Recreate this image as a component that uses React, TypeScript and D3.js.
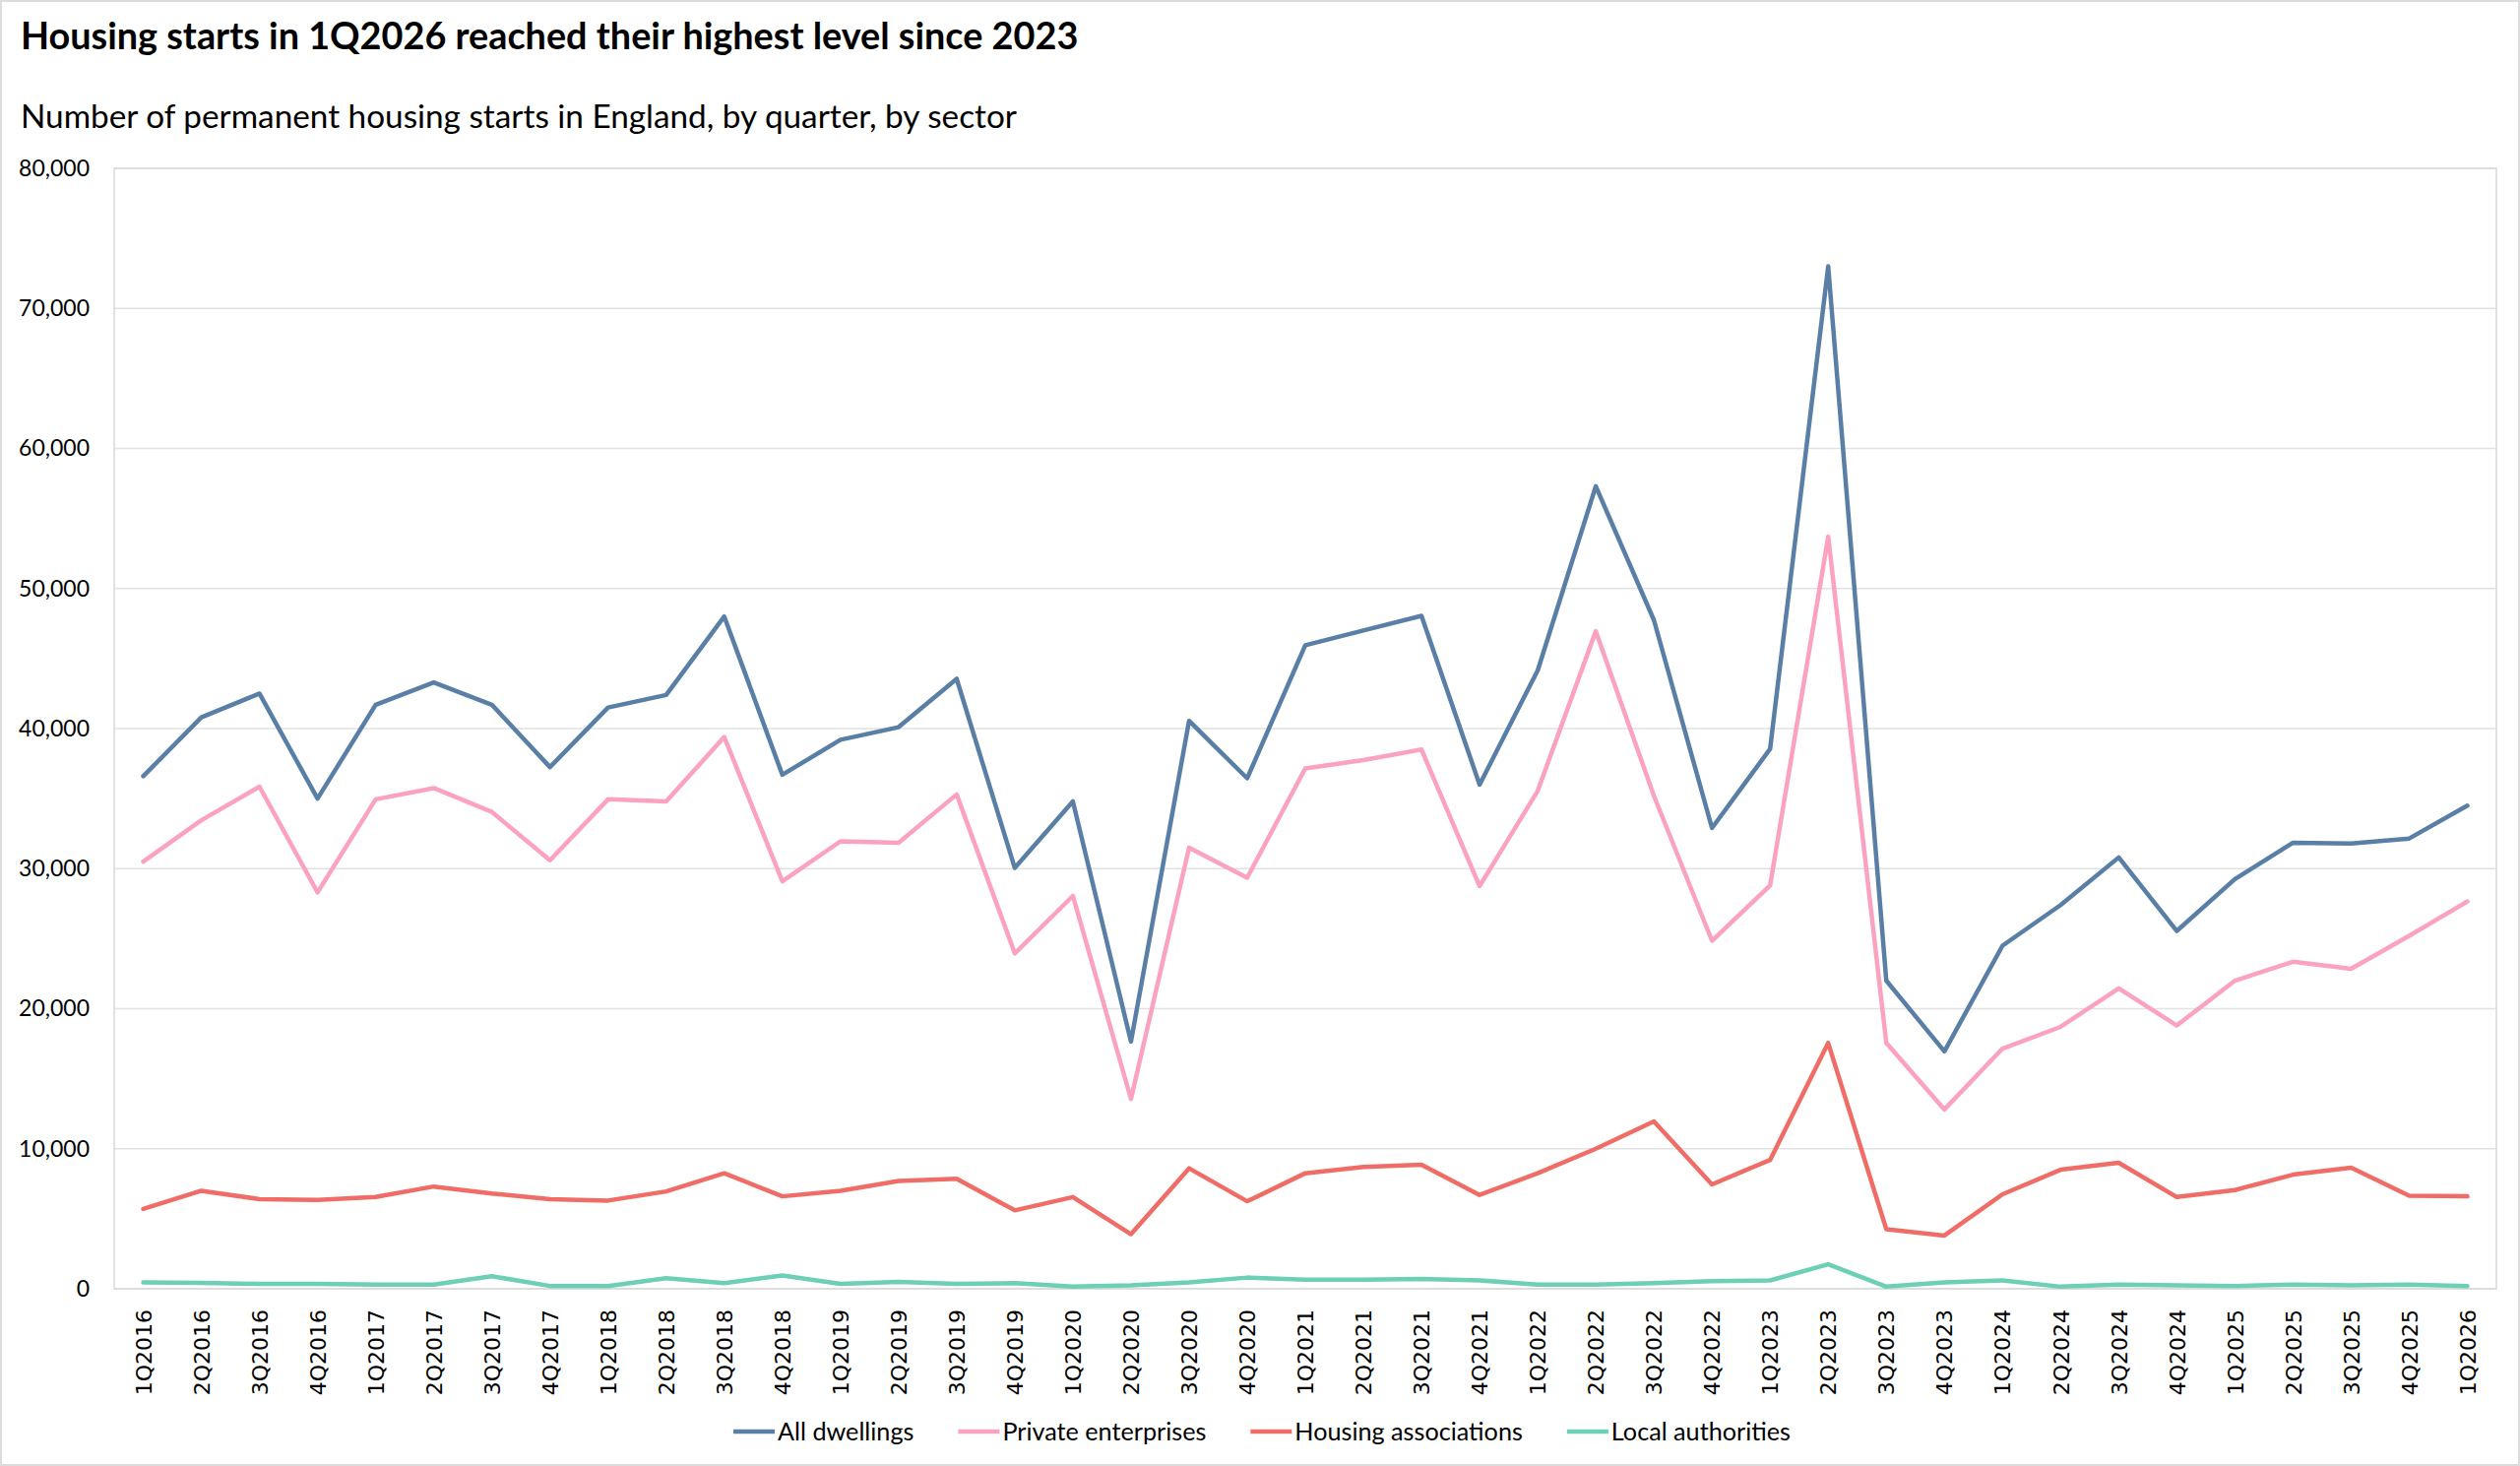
import * as d3 from "d3";
import { useEffect, useRef } from "react";

const quarters = [
  "1Q2016", "2Q2016", "3Q2016", "4Q2016",
  "1Q2017", "2Q2017", "3Q2017", "4Q2017",
  "1Q2018", "2Q2018", "3Q2018", "4Q2018",
  "1Q2019", "2Q2019", "3Q2019", "4Q2019",
  "1Q2020", "2Q2020", "3Q2020", "4Q2020",
  "1Q2021", "2Q2021", "3Q2021", "4Q2021",
  "1Q2022", "2Q2022", "3Q2022", "4Q2022",
  "1Q2023", "2Q2023", "3Q2023", "4Q2023",
  "1Q2024", "2Q2024", "3Q2024", "4Q2024",
  "1Q2025", "2Q2025", "3Q2025", "4Q2025",
  "1Q2026",
];

const allDwellings = [
  36600, 40800, 42500, 35000, 41700, 43300, 41700, 37250,
  41500, 42400, 48000, 36700, 39200, 40100, 43550, 30050,
  34800, 17650, 40550, 36450, 45950, 47000, 48050, 36000,
  44150, 57300, 47750, 32900, 38550, 73000, 22000, 16950,
  24500, 27400, 30800, 25550, 29250, 31850, 31800, 32150,
  34500,
];

const privateEnterprises = [
  30500, 33450, 35850, 28300, 34950, 35750, 34050, 30600,
  34950, 34800, 39400, 29100, 31950, 31850, 35300, 23950,
  28050, 13550, 31500, 29350, 37150, 37750, 38500, 28750,
  35550, 46950, 35200, 24850, 28800, 53700, 17550, 12800,
  17150, 18700, 21450, 18800, 22000, 23350, 22850, 25200,
  27650,
];

const housingAssociations = [
  5700, 7000, 6400, 6350, 6550, 7300, 6800, 6400,
  6300, 6950, 8250, 6600, 7000, 7700, 7850, 5600,
  6550, 3900, 8600, 6250, 8250, 8700, 8850, 6700,
  8250, 10000, 11950, 7450, 9200, 17550, 4250, 3800,
  6750, 8500, 9000, 6550, 7050, 8150, 8650, 6650,
  6600,
];

const localAuthorities = [
  450, 420, 350, 350, 300, 300, 900, 200,
  200, 750, 400, 950, 350, 500, 350, 400,
  150, 250, 450, 800, 650, 650, 700, 600,
  300, 300, 400, 550, 600, 1750, 150, 450,
  600, 150, 300, 250, 200, 300, 250, 300,
  200,
];

const seriesNames = [
  "All dwellings",
  "Private enterprises",
  "Housing associations",
  "Local authorities",
];
const seriesColors = ["#5a7fa7", "#fba2c1", "#ef6d66", "#6dcfb6"];
const seriesValues = [allDwellings, privateEnterprises, housingAssociations, localAuthorities];

const yTicks = [0, 10000, 20000, 30000, 40000, 50000, 60000, 70000, 80000];

const title = "Housing starts in 1Q2026 reached their highest level since 2023";
const subtitle = "Number of permanent housing starts in England, by quarter, by sector";

const W = 2560;
const H = 1489;

const App = () => {
  const ref = useRef<SVGSVGElement | null>(null);

  useEffect(() => {
    document.body.style.margin = "0";
    if (!ref.current) return;
    const svg = d3.select(ref.current);
    svg.selectAll("*").remove();

    const left = 116, right = 2536, top = 171, bottom = 1309;

    const x = d3.scalePoint<string>().domain(quarters).range([left, right]).padding(0.5);
    const y = d3.scaleLinear().domain([0, 80000]).range([bottom, top]);

    // frame
    svg.append("rect")
      .attr("x", 1).attr("y", 1).attr("width", W - 2).attr("height", H - 2)
      .attr("fill", "#fff").attr("stroke", "#dcdcdc").attr("stroke-width", 2);

    svg.append("text")
      .attr("x", 21).attr("y", 50)
      .attr("font-family", "Lato, sans-serif").attr("font-weight", 700)
      .attr("font-size", 37.8).attr("fill", "#000")
      .text(title);

    svg.append("text")
      .attr("x", 21).attr("y", 130)
      .attr("font-family", "Lato, sans-serif")
      .attr("font-size", 33.3).attr("fill", "#000")
      .text(subtitle);

    // grid
    svg.append("g")
      .selectAll("line")
      .data(yTicks)
      .enter()
      .append("line")
      .attr("x1", left).attr("x2", right)
      .attr("y1", (d) => y(d)).attr("y2", (d) => y(d))
      .attr("stroke", "#e2e2e2").attr("stroke-width", 1.5);

    svg.append("rect")
      .attr("x", left).attr("y", top)
      .attr("width", right - left).attr("height", bottom - top)
      .attr("fill", "none").attr("stroke", "#d9d9d9").attr("stroke-width", 1.5);

    // y axis
    const yAxis = svg.append("g")
      .attr("transform", `translate(${left - 25},0)`)
      .call(d3.axisLeft(y).tickValues(yTicks).tickSize(0).tickPadding(0).tickFormat(d3.format(",")));
    yAxis.select(".domain").remove();
    yAxis.selectAll("text")
      .attr("font-family", "Lato, sans-serif")
      .attr("font-size", 23)
      .attr("fill", "#000");

    // x axis
    const xAxis = svg.append("g")
      .attr("transform", `translate(0,${bottom})`)
      .call(d3.axisBottom(x).tickSize(0).tickPadding(0));
    xAxis.select(".domain").remove();
    xAxis.selectAll("text")
      .attr("font-family", "'DejaVu Sans', sans-serif")
      .attr("font-size", 22)
      .attr("fill", "#000")
      .attr("transform", "translate(0,21)rotate(-90)")
      .attr("x", 0).attr("y", 0)
      .attr("dy", "0.35em")
      .style("text-anchor", "end");

    // lines
    const line = d3.line<number>()
      .x((_, i) => x(quarters[i]) as number)
      .y((d) => y(d));

    svg.append("g")
      .selectAll("path")
      .data(seriesValues.map((v, i) => ({ v, c: seriesColors[i] })).reverse())
      .enter()
      .append("path")
      .attr("d", (d) => line(d.v))
      .attr("fill", "none")
      .attr("stroke", (d) => d.c)
      .attr("stroke-width", 4.5)
      .attr("stroke-linejoin", "round")
      .attr("stroke-linecap", "round");

    // legend
    const legend = svg.append("g");
    const items = legend.selectAll("g")
      .data(seriesNames)
      .enter()
      .append("g");
    items.append("line")
      .attr("x1", 0).attr("x2", 42)
      .attr("y1", 1454).attr("y2", 1454)
      .attr("stroke", (_, i) => seriesColors[i])
      .attr("stroke-width", 4.5);
    items.append("text")
      .attr("x", 45).attr("y", 1454).attr("dy", "0.35em")
      .attr("font-family", "Lato, sans-serif")
      .attr("font-size", 25.2)
      .attr("fill", "#000")
      .text((d) => d);

    const widths: number[] = [];
    items.select("text").each(function () {
      widths.push(45 + (this as SVGTextElement).getComputedTextLength());
    });
    const gap = 45;
    const total = d3.sum(widths) + gap * (widths.length - 1);
    let cx = 1282 - total / 2;
    items.attr("transform", (_, i) => {
      const t = `translate(${cx},0)`;
      cx += widths[i] + gap;
      return t;
    });
  }, []);

  return <svg ref={ref} width={W} height={H} style={{ display: "block" }} />;
};

export default App;
